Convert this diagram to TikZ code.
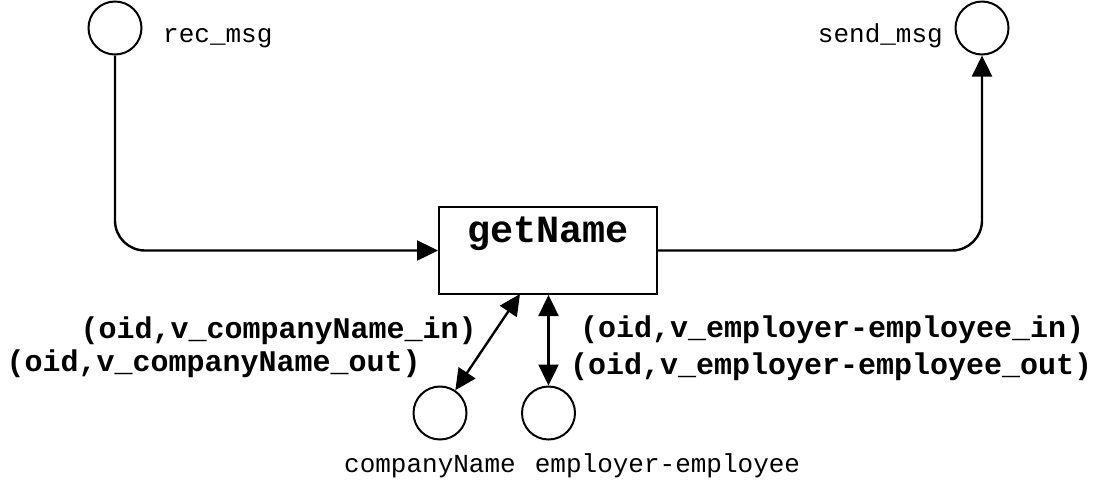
\documentclass[tikz,border=0pt]{standalone}
\usepackage{fontspec}
\setmainfont{Liberation Mono}
\usetikzlibrary{arrows.meta}
\begin{document}
\begin{tikzpicture}[x=1pt,y=-1pt,
  place/.style={circle,draw,line width=2pt,minimum size=53pt,inner sep=0pt},
  conn/.style={line width=2.4pt,-{Triangle[length=21pt,width=20pt]}},
  dconn/.style={line width=2.4pt,{Triangle[length=21pt,width=20pt]}-{Triangle[length=21pt,width=20pt]}},
  small/.style={inner sep=0pt,font=\fontsize{26}{30}\selectfont},
  lab/.style={inner sep=0pt,font=\fontsize{30}{34}\selectfont\bfseries},
  trans/.style={draw,line width=2pt,minimum width=218pt,minimum height=87pt,inner sep=0pt}]
\useasboundingbox (0,0) rectangle (1094,483);
\node[place] (rm) at (115,28) {};
\node[place] (sm) at (982,28) {};
\node[place] (cn) at (440,413) {};
\node[place] (ee) at (548.5,413) {};
\node[trans] (g) at (548,250.5) {};
\node[inner sep=0pt,anchor=base,font=\fontsize{38.5}{40}\selectfont\bfseries] (gt) at (548,242) {getName};
\node[small,anchor=base west] (rmt) at (163,42) {rec\_msg};
\node[small,anchor=base east] (smt) at (943,42) {send\_msg};
\node[small,anchor=base] (cnt) at (430,472) {companyName};
\node[small,anchor=base] (eet) at (667.5,472) {employer-employee};
\node[lab,anchor=east] (l1) at (477,331) {(oid,v\_companyName\_in)};
\node[lab,anchor=east] (l2) at (421,364) {(oid,v\_companyName\_out)};
\node[lab,anchor=west] (r1) at (580,330) {(oid,v\_employer-employee\_in)};
\node[lab,anchor=west] (r2) at (570,366.5) {(oid,v\_employer-employee\_out)};
\draw[conn,rounded corners=30pt] (rm) |- (g.west);
\draw[conn,rounded corners=30pt] (g.east) -| (sm);
\coordinate (p1) at (520,294);
\draw[dconn] (p1) -- (cn);
\draw[dconn] (g.south -| ee) -- (ee);
\end{tikzpicture}
\end{document}
